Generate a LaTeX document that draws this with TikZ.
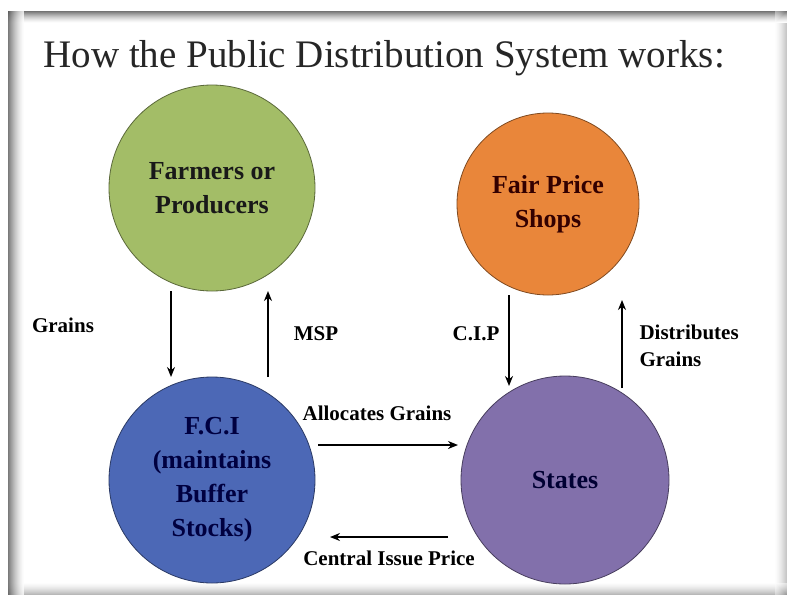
\documentclass[tikz,border=0pt]{standalone}
\usepackage{fontspec}
\setmainfont{Liberation Serif}
\usetikzlibrary{arrows.meta}

\definecolor{farmgreen}{HTML}{A3BD67}
\definecolor{shoporange}{HTML}{E9863A}
\definecolor{fciblue}{HTML}{4C68B6}
\definecolor{statepurple}{HTML}{8270AB}

\tikzset{
  stage/.style={circle, draw=#1!55!black, fill=#1, line width=0.8pt, outer sep=0pt,
    inner sep=0pt, align=center, font=\fontsize{26}{34}\selectfont\bfseries},
  flow/.style={-{Stealth[length=10pt,width=8pt]}, line width=1.7pt},
  flowlabel/.style={font=\fontsize{21}{27}\selectfont\bfseries, align=left},
}

\begin{document}
\begin{tikzpicture}[x=1pt,y=-1pt]
\useasboundingbox (0,0) rectangle (787,595);
% slide frame with its inner shadow
\fill[white] (0,0) rectangle (787,595);
\foreach \i in {0,...,11} {
  \pgfmathsetmacro\g{55*(1-\i/12)^1.5}
  \fill[black!\g] (8,11+\i) rectangle (787,12+\i);
  \fill[black!\g!white, opacity=0.5] (8,594-\i) rectangle (787,595-\i);
  \fill[black!\g!white, opacity=0.4] (786-\i,11) rectangle (787-\i,595);
}
\foreach \i in {0,...,15} {
  \pgfmathsetmacro\g{65*(1-\i/16)^1.5}
  \fill[black!\g, opacity=0.8] (8+\i,11) rectangle (9+\i,595);
}

\node[anchor=base west, font=\fontsize{39}{44}\selectfont, text=black!85] (title) at (40,67)
  {How the Public Distribution System works:};

% the four stages
\node[stage=farmgreen, minimum size=206pt, text=black!90] (farmers) at (212,188) {Farmers or\\Producers};
\node[stage=shoporange, minimum size=182pt, text=black!80!red] (shops) at (548,204) {Fair Price\\Shops};
\node[stage=fciblue, minimum size=206pt, text=black!75!blue] (fci) at (212,480) {F.C.I\\(maintains\\Buffer\\Stocks)};
\node[stage=statepurple, minimum size=208pt, text=black!80!blue] (states) at (565,480) {States};

% flows
\draw[flow] ([xshift=-41pt]farmers.south) -- ([xshift=-41pt]fci.north);
\draw[flow] ([xshift=56pt]fci.north) -- ([xshift=56pt]farmers.south);
\draw[flow] ([xshift=-39pt]shops.south) -- ([xshift=-56pt,yshift=-10pt]states.north);
\draw[flow] ([xshift=57pt,yshift=-12pt]states.north) -- ([xshift=74pt,yshift=-5pt]shops.south);
\draw[flow, shorten <=3pt, shorten >=3pt] ([yshift=35pt]fci.east) -- ([yshift=35pt]states.west);
\draw[flow, shorten <=13pt, shorten >=15pt] ([yshift=-57pt]states.west) -- ([yshift=-57pt]fci.east);

% labels
\node[flowlabel] (grains) at (63,325) {Grains};
\node[flowlabel] (msp) at (316,334) {MSP};
\node[flowlabel] (cip) at (476,334) {C.I.P};
\node[flowlabel, anchor=west] (distributes) at (636,346) {Distributes\\Grains};
\node[flowlabel] (allocates) at (377,413) {Allocates Grains};
\node[flowlabel] (central) at (389,558) {Central Issue Price};
\end{tikzpicture}
\end{document}
